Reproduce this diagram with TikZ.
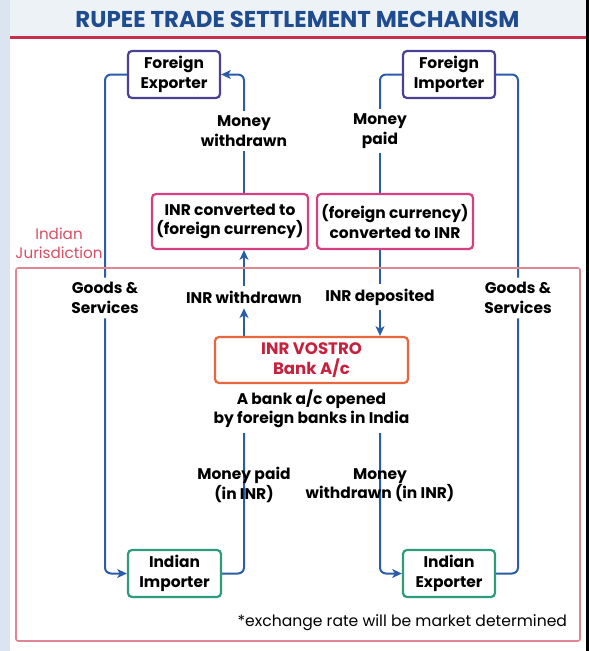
\documentclass[tikz,border=0pt]{standalone}
\usepackage{fontspec}
\setmainfont{Poppins}
\usetikzlibrary{arrows.meta}
\usetikzlibrary{backgrounds}
\definecolor{Rupee1}{rgb}{.12,.30,.56}
\definecolor{Rupee2}{rgb}{.93,.95,.97}
\definecolor{Rupee3}{rgb}{.86,.90,.95}
\definecolor{Rupee4}{rgb}{.78,.19,.29}
\definecolor{Rupee5}{rgb}{.17,.36,.66}
\definecolor{Rupee6}{rgb}{.29,.25,.58}
\definecolor{Rupee7}{rgb}{.84,.25,.50}
\definecolor{Rupee8}{rgb}{.91,.40,.23}
\definecolor{Rupee9}{rgb}{.18,.61,.48}
\definecolor{Rupee10}{rgb}{.85,.30,.38}
\definecolor{Rupee11}{rgb}{.88,.52,.58}
\definecolor{Rupee12}{rgb}{.78,.13,.24}
\tikzset{
  box/.style={rectangle, rounded corners=0.1cm, line width=0.055cm, align=center, inner sep=0pt,
    font=\fontsize{11}{13.8}\selectfont\bfseries},
  fbox/.style={box, draw=Rupee6, minimum width=2.3cm, minimum height=1.175cm},
  cbox/.style={box, draw=Rupee7, minimum width=3.9cm, minimum height=1.375cm},
  ibox/.style={box, draw=Rupee9, minimum height=1.175cm},
  lbl/.style={align=center, font=\fontsize{11}{13.8}\selectfont\bfseries},
  link/.style={draw=Rupee5, line width=0.05cm, rounded corners=0.15cm},
  tip/.style={-{Stealth[length=0.24cm, width=0.22cm, inset=0.06cm]}}
}

\begin{document}
\begin{tikzpicture}[x=0.025cm, y=-0.025cm]
  \useasboundingbox (0,0) rectangle (589,651);
  % page frame:
  \fill[Rupee3] (0,0) rectangle (10,651);
  \fill[Rupee2] (10,0) rectangle (586,36);
  \fill[Rupee4] (10,36) rectangle (586,39);
  \fill[black] (586,0) rectangle (589,651);
  \node [font=\fontsize{16.3}{18}\selectfont\bfseries, text=Rupee1] (title) at (297.5,19) {RUPEE TRADE SETTLEMENT MECHANISM};
  %
  % jurisdiction:
  \draw[Rupee11, line width=0.038cm, rounded corners=0.05cm] (16,268) rectangle (580,641);
  \node [align=center, text=Rupee10, font=\fontsize{10.8}{13.8}\selectfont] (juris) at (59,243) {Indian\\Jurisdiction};
  %
  % boxes:
  \node [fbox] (fexp) at (174,74.5) {Foreign\\Exporter};
  \node [fbox] (fimp) at (449,74.5) {Foreign\\Importer};
  \node [cbox] (conv1) at (230,221.5) {INR converted to\\(foreign currency)};
  \node [cbox] (conv2) at (395,221.5) {(foreign currency)\\converted to INR};
  \node [box, draw=Rupee8, text=Rupee12, font=\fontsize{11.8}{14.5}\selectfont\bfseries, minimum width=4.825cm, minimum height=1.15cm] (vostro) at (311.5,360) {INR VOSTRO\\Bank A/c};
  \node [ibox, minimum width=2.325cm] (iimp) at (174.5,573.5) {Indian\\Importer};
  \node [ibox, minimum width=2.3cm] (iexp) at (449,573.5) {Indian\\Exporter};
  %
  % labels:
  \node [lbl] (mwd) at (244,131) {Money\\withdrawn};
  \node [lbl] (mpd) at (380,131) {Money\\paid};
  \node [lbl] (gs1) at (105,298) {Goods \&\\Services};
  \node [lbl] (gs2) at (518,298) {Goods \&\\Services};
  \node [lbl] (inrw) at (244,297) {INR withdrawn};
  \node [lbl] (inrd) at (380,297) {INR deposited};
  \node [lbl] (desc) at (311.5,409) {A bank a/c opened\\by foreign banks in India};
  \node [lbl] (mpi) at (244,485) {Money paid\\(in INR)};
  \node [lbl] (mwi) at (380,485) {Money\\withdrawn (in INR)};
  \node [anchor=east, font=\fontsize{11.1}{14}\selectfont] (note) at (572,623) {*exchange rate will be market determined};
  %
  % flows:
  \begin{scope}[on background layer]
    \draw[link] (fexp.west) -| (gs1.north);
    \draw[link, tip] (gs1.south) |- (iimp.west);
    \draw[link] (iimp.east) -| (mpi |- desc.south);
    \draw[link, tip] (vostro.north -| inrw) -- (inrw.south);
    \draw[link, tip] (inrw.north) -- (inrw |- conv1.south);
    \draw[link] (conv1.north -| mwd) -- (mwd.south);
    \draw[link, tip] (mwd.north) |- (fexp.east);
    %
    \draw[link] (fimp.west) -| (mpd.north);
    \draw[link] (mpd.south) -- (mpd |- conv2.north);
    \draw[link] (conv2.south -| inrd) -- (inrd.north);
    \draw[link, tip] (inrd.south) -- (inrd |- vostro.north);
    \draw[link, tip] (mwi |- desc.south) |- (iexp.west);
    \draw[link] (iexp.east) -| (gs2.south);
    \draw[link] (gs2.north) |- (fimp.east);
  \end{scope}
\end{tikzpicture}
\end{document}
